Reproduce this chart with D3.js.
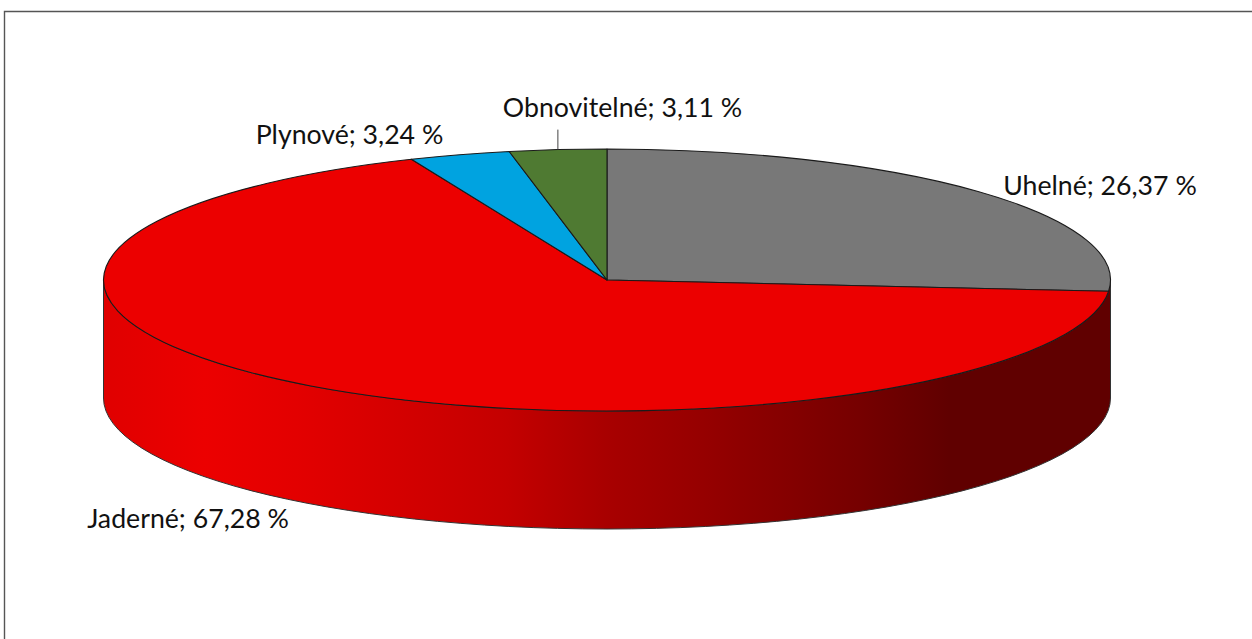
<!DOCTYPE html>
<html>
<head>
<meta charset="utf-8">
<script src="https://cdn.jsdelivr.net/npm/d3@7/dist/d3.min.js"></script>
<style>
html,body{margin:0;padding:0;background:#fff;overflow:hidden}
svg{display:block}
text{font-family:Lato,"Open Sans",sans-serif;font-size:26.7px;fill:#111}
</style>
</head>
<body>
<svg id="chart" width="1252" height="639"></svg>
<script>
// Data
const categories = ["Uhelné", "Jaderné", "Plynové", "Obnovitelné"];
const shares = [26.37, 67.28, 3.24, 3.11];
const valueLabels = ["26,37 %", "67,28 %", "3,24 %", "3,11 %"];
const sliceColors = ["#787878", "#ec0000", "#00a3e0", "#4f7a32"];
const labelAnchors = [[1100, 186], [188, 519], [349.5, 135], [622.5, 108]];

const W = 1252, H = 639;
const cx = 607, cy = 280, rx = 503.5, ry = 131, depth = 118;

const svg = d3.select("#chart");

// Frame (top and left only are visible in the reference)
svg.append("path").attr("d", `M4.5,${H}V11.5H${W}`)
  .attr("fill", "none").attr("stroke", "#555").attr("stroke-width", 1.4);

// Side-wall gradient
const defs = svg.append("defs");
const grad = defs.append("linearGradient").attr("id", "wall")
  .attr("gradientUnits", "userSpaceOnUse")
  .attr("x1", cx - rx).attr("x2", cx + rx).attr("y1", 0).attr("y2", 0);
[[0, "#e00000"], [0.1, "#ec0000"], [0.2, "#e20000"], [0.4, "#c40000"], [0.5, "#a80000"], [0.6, "#950000"], [0.75, "#760000"], [0.84, "#600000"], [1, "#600000"]]
  .forEach(([o, c]) => grad.append("stop").attr("offset", o).attr("stop-color", c));

// Projection from the unit disc to the tilted ellipse
const px = d3.scaleLinear().domain([-1, 1]).range([cx - rx, cx + rx]);
const py = d3.scaleLinear().domain([-1, 1]).range([cy - ry, cy + ry]);

const pie = d3.pie().sort(null).value(d => d)(shares);

// Elliptical-arc path helper, angles clockwise from 12 o'clock
const pt = (a, dy = 0) => [px(Math.sin(a)), py(-Math.cos(a)) + dy];
function arcTo(a1, dy, sweep) {
  const [x, y] = pt(a1, dy);
  return `A${rx},${ry} 0 0 ${sweep} ${x},${y}`;
}

// Visible wall: from the right extreme round the front to the left extreme
const wallPath = (a0, a1) => {
  const s = pt(a0), e = pt(a1);
  return `M${s[0]},${s[1]}` + arcTo(a1, 0, 1) + `L${e[0]},${e[1] + depth}` + arcTo(a0, depth, 0) + "Z";
};
svg.append("path").attr("d", wallPath(Math.PI / 2, 3 * Math.PI / 2))
  .attr("fill", "url(#wall)").attr("stroke", "#333").attr("stroke-width", 1);

// Top slices
const slicePath = d => {
  const s = pt(d.startAngle), e = pt(d.endAngle);
  const large = d.endAngle - d.startAngle > Math.PI ? 1 : 0;
  return `M${cx},${cy}L${s[0]},${s[1]}A${rx},${ry} 0 ${large} 1 ${e[0]},${e[1]}Z`;
};
svg.append("g").selectAll("path").data(pie).join("path")
  .attr("d", slicePath)
  .attr("fill", (d, i) => sliceColors[i])
  .attr("stroke", "#1a1a1a").attr("stroke-width", 1.1).attr("stroke-linejoin", "round");

// Leader line for Obnovitelné
const leadA = pie[3].startAngle + (pie[3].endAngle - pie[3].startAngle) / 2;
const lead = pt(leadA);
svg.append("line").attr("x1", lead[0]).attr("x2", lead[0])
  .attr("y1", lead[1]).attr("y2", lead[1] - 20)
  .attr("stroke", "#444").attr("stroke-width", 1);

// Labels
svg.append("g").selectAll("text").data(categories).join("text")
  .attr("x", (d, i) => labelAnchors[i][0])
  .attr("y", (d, i) => labelAnchors[i][1])
  .attr("dy", "0.35em")
  .attr("text-anchor", "middle")
  .text((d, i) => `${d}; ${valueLabels[i]}`);
</script>
</body>
</html>
